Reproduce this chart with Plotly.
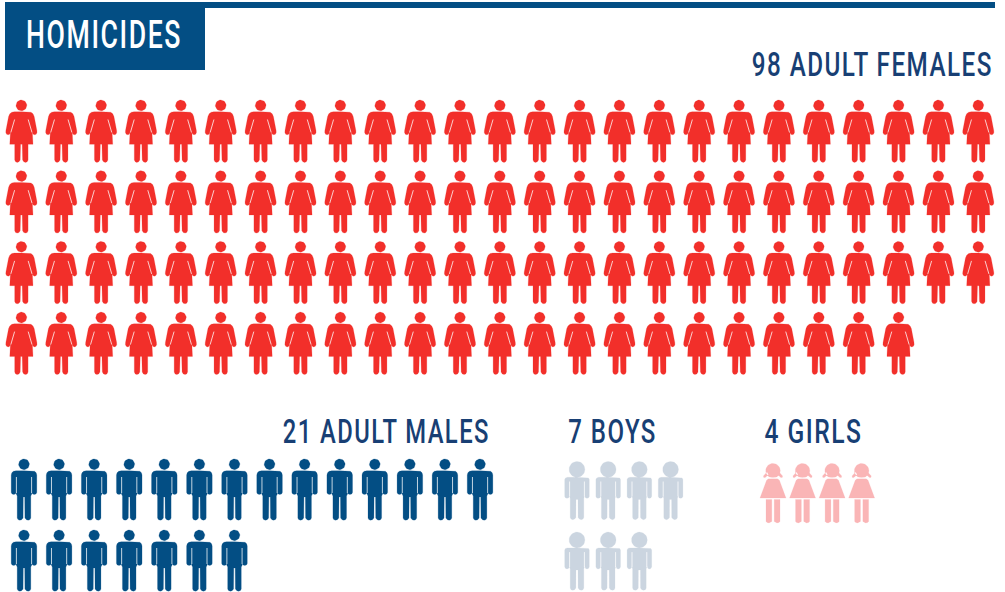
import math
import plotly.graph_objects as go

# ---- data ----
TITLE = "HOMICIDES"
groups = ["98 ADULT FEMALES", "21 ADULT MALES", "7 BOYS", "4 GIRLS"]
counts = [98, 21, 7, 4]
per_row = [25, 14, 4, 4]
colors = ["#f22f2a", "#034e84", "#cbd5e0", "#fab5b6"]
TEXT = "#183f74"
BLUE = "#034e84"

# ---- icon templates (pixels relative to the icon's top centre) ----
def circle(cx, cy, r, n=32):
    return [(cx + r * math.cos(2 * math.pi * i / n), cy + r * math.sin(2 * math.pi * i / n)) for i in range(n)]

def mirror(half):
    return half + [(-x, y) for x, y in reversed(half)]

woman_body = mirror([
    (0, 11.7), (7, 11.7), (9.6, 12.2), (11.6, 13.8), (12.8, 16.5), (15.5, 30.5), (15.6, 32.6),
    (14.8, 34.2), (13.2, 34.8), (11.8, 34.2), (11, 32.5), (11.6, 44.3), (6.7, 44.3), (6.7, 60),
    (5.8, 61.8), (4.2, 62.4), (2.4, 61.8), (1.2, 60), (0.8, 44.3), (0, 44.3),
])
woman = [circle(0, 5.4, 5.4), woman_body]
woman_slits = [[(6.8, 19.5), (10.6, 32.5)], [(-6.8, 19.5), (-10.6, 32.5)]]

man_body = mirror([
    (0, 11.7), (8, 11.7), (10.6, 12.3), (12.2, 13.8), (12.8, 16), (12.8, 33.5), (12, 35), (10.2, 35.4),
    (8.6, 35), (7.8, 33.5), (7.8, 35), (6.8, 37), (6.8, 59), (6, 60.6), (4.2, 61.2), (2.4, 60.8),
    (0.9, 59), (0.7, 38), (0, 38),
])
man = [circle(0, 5.3, 5.4), man_body]
man_slits = [[(7.6, 18), (7.6, 34)], [(-7.6, 18), (-7.6, 34)]]

boy_body = mirror([
    (0, 15.8), (9.5, 15.8), (11.5, 16.4), (12.3, 18), (12.3, 35), (11.4, 36.4), (10, 36.8), (8.6, 36.4), (7.6, 35),
    (7.6, 34), (6.8, 37), (6.8, 56), (6, 57.6), (4.2, 58.2), (2.4, 57.6), (1.1, 56), (1, 38), (0, 38),
])
boy = [circle(0, 7.9, 7.9), boy_body]
boy_slits = [[(7.4, 20), (7.4, 35)], [(-7.4, 20), (-7.4, 35)]]

girl_dress = mirror([(0, 15.4), (4.6, 15.4), (6.4, 16.8), (13, 34.7), (0, 34.7)])
girl_legs = [
    [(1.2, 36), (7, 36), (7, 58), (6, 59), (4, 59.5), (2.2, 59), (1.2, 58)],
    [(-1.2, 36), (-7, 36), (-7, 58), (-6, 59), (-4, 59.5), (-2.2, 59), (-1.2, 58)],
]
girl_tails = [
    [(6, 8.5), (9.6, 12.5), (9.3, 14), (7.8, 14.2), (4.5, 11)],
    [(-6, 8.5), (-9.6, 12.5), (-9.3, 14), (-7.8, 14.2), (-4.5, 11)],
]
girl = [circle(0, 7.3, 7.3), girl_dress] + girl_legs + girl_tails
girl_slits = [[(-7, 14.6), (-4, 14.4), (4, 14.4), (7, 14.6)]]

templates = [woman, man, boy, girl]
slits = [woman_slits, man_slits, boy_slits, girl_slits]

# ---- grid layout of the icons ----
grid_x0 = [21.4, 24, 577, 773]
grid_dx = [39.87, 35.08, 31.2, 29.55]
grid_y0 = [100, 459, 461.5, 463.4]
grid_dy = [70.7, 71, 70.6, 70]

fig = go.Figure()
for g in range(len(groups)):
    xs, ys, sx, sy = [], [], [], []
    for i in range(counts[g]):
        r, c = divmod(i, per_row[g])
        ox = grid_x0[g] + c * grid_dx[g]
        oy = grid_y0[g] + r * grid_dy[g]
        for poly in templates[g]:
            closed = poly + [poly[0]]
            xs += [ox + p[0] for p in closed] + [None]
            ys += [oy + p[1] for p in closed] + [None]
        for line in slits[g]:
            sx += [ox + p[0] for p in line] + [None]
            sy += [oy + p[1] for p in line] + [None]
    fig.add_trace(go.Scatter(x=xs, y=ys, mode="lines", fill="toself", fillcolor=colors[g],
                             line=dict(width=0.2, color=colors[g]), hoverinfo="skip", name=groups[g]))
    fig.add_trace(go.Scatter(x=sx, y=sy, mode="lines", line=dict(width=0.9, color="rgba(255,255,255,0.85)"),
                             hoverinfo="skip"))

# text placement: centre x, centre y, rendered width in px
label_x = [872.6, 386.3, 612, 813.8]
label_y = [67.7, 434.7, 434.7, 434.7]
label_w = [241, 207, 88.5, 98]
FONT = "Roboto"
annotations = [dict(x=label_x[i], y=label_y[i], text=groups[i], showarrow=False, xanchor="center",
                    yanchor="middle", xref="x", yref="y",
                    font=dict(family=FONT, size=25, color=TEXT, weight=500))
               for i in range(len(groups))]
annotations.append(dict(x=103.6, y=38.2, text=TITLE, showarrow=False, xanchor="center", yanchor="middle",
                        xref="x", yref="y", font=dict(family=FONT, size=29, color="#ffffff", weight=500)))

fig.update_layout(
    width=1005, height=592, margin=dict(l=0, r=0, t=0, b=0), showlegend=False,
    paper_bgcolor="#ffffff", plot_bgcolor="#ffffff",
    xaxis=dict(range=[0, 1005], visible=False, fixedrange=True),
    yaxis=dict(range=[592, 0], visible=False, fixedrange=True),
    annotations=annotations,
    shapes=[
        dict(type="rect", x0=5, x1=205, y0=2, y1=70, xref="x", yref="y", fillcolor=BLUE, line_width=0, layer="below"),
        dict(type="rect", x0=205, x1=995, y0=2, y1=8, xref="x", yref="y", fillcolor=BLUE, line_width=0, layer="below"),
    ],
)
widths = label_w + [156]
fig.write_html("out.html", config={"displayModeBar": False},
               post_script=("document.body.style.margin='0';"
                            "var w=%s;var k=1.32;document.querySelectorAll('.annotation-text').forEach(function(t,i){"
                            "t.style.letterSpacing='0.06em';"
                            "t.setAttribute('textLength',w[i]);t.setAttribute('lengthAdjust','spacingAndGlyphs');"
                            "var y=parseFloat(t.getAttribute('y'));"
                            "t.setAttribute('transform','matrix(1,0,0,'+k+',0,'+(y*(1-k))+')');});" % widths))
